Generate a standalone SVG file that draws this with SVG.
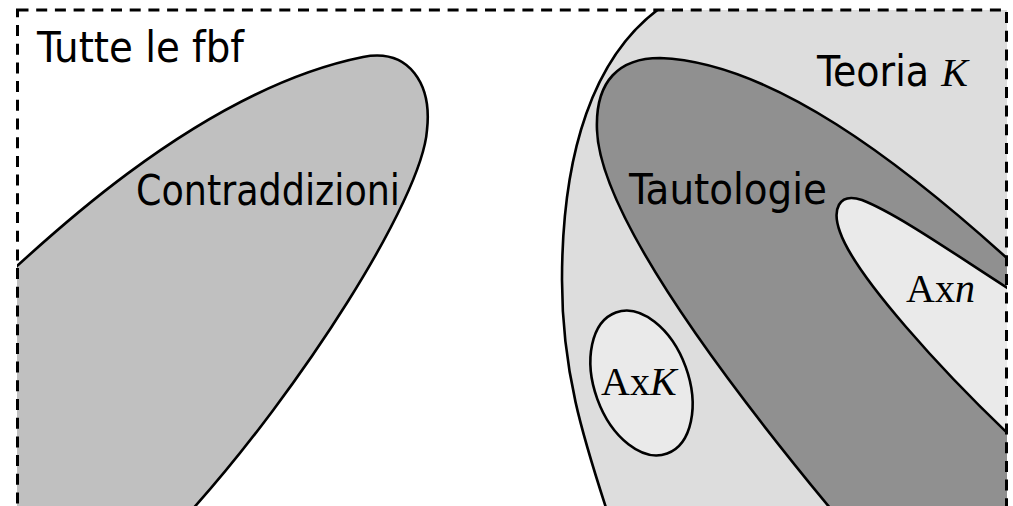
<svg xmlns="http://www.w3.org/2000/svg" width="1013" height="506" viewBox="0 0 1013 506">
<defs>
<clipPath id="frame"><rect x="17" y="10" width="990" height="520"/></clipPath>
<style>
.sh{stroke:#000;stroke-width:2.6;stroke-linejoin:round}
.lbl{font-family:"DejaVu Sans Condensed","DejaVu Sans",sans-serif;font-stretch:condensed;font-size:43px;fill:#000}
.ser{font-family:"Liberation Serif","Times New Roman",serif;font-size:40px;fill:#000}
.it{font-style:italic}
</style>
</defs>
<rect width="1013" height="506" fill="#fff"/>
<g clip-path="url(#frame)">
<g id="contraddizioni">
<path class="sh" fill="#C0C0C0" d="M -60,340 C 40,240 200,90 363,57 C 410,48 432,85 427,130 C 422,200 300,390 190,512 L -60,512 Z"/>
<text class="lbl" x="136" y="205" textLength="264" lengthAdjust="spacingAndGlyphs">Contraddizioni</text>
</g>
<g id="teoriaK">
<path class="sh" fill="#DDDDDD" d="M 672,0 C 590,50 562,160 562,280 C 562,370 582,435 610,520 L 1030,520 L 1030,0 Z"/>
<text class="lbl" x="817" y="86"><tspan textLength="112" lengthAdjust="spacingAndGlyphs">Teoria</tspan> <tspan class="ser it" font-size="42">K</tspan></text>
</g>
<g id="tautologie">
<path class="sh" fill="#909090" d="M 840,520 C 740,400 600,220 597,130 C 595,80 620,58 660,58 C 770,62 900,160 1020,270 L 1030,520 Z"/>
<text class="lbl" x="629" y="204" textLength="198" lengthAdjust="spacingAndGlyphs">Tautologie</text>
</g>
<g id="axn">
<path class="sh" fill="#EAEAEA" d="M 1020,296 C 960,258 900,215 862,200 C 838,192 832,210 840,232 C 855,275 940,370 1020,445 Z"/>
<text class="ser" x="906" y="302" font-size="41">Ax<tspan class="it">n</tspan></text>
</g>
<g id="axK">
<ellipse class="sh" fill="#EAEAEA" cx="641.5" cy="383" rx="47" ry="75" transform="rotate(-20 641.5 383)"/>
<text class="ser" x="601" y="395" font-size="41">Ax<tspan class="it">K</tspan></text>
</g>
</g>
<g id="tutte">
<rect x="17.5" y="10" width="989" height="520" fill="none" stroke="#000" stroke-width="3" stroke-dasharray="11 7.7"/>
<text class="lbl" x="37" y="62" textLength="207" lengthAdjust="spacingAndGlyphs">Tutte le fbf</text>
</g>
<g id="connectors"/>
</svg>
